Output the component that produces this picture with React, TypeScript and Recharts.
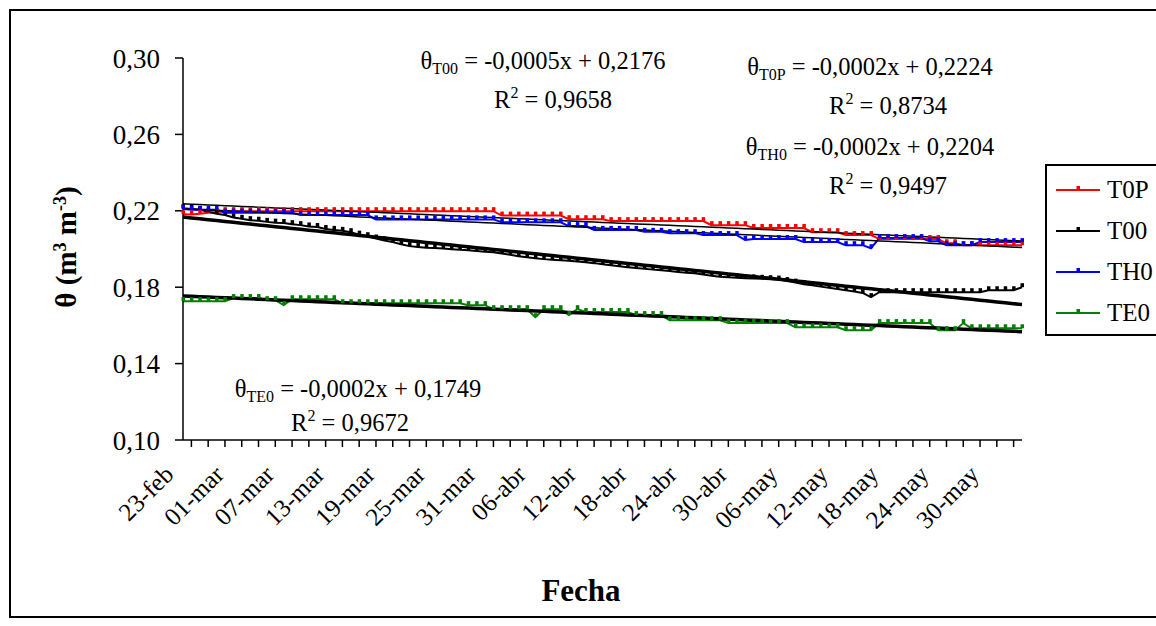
import React from 'react';
import { LineChart, Line, XAxis, YAxis } from 'recharts';

// calendar spans of the measurement period (day-by-day categories)
const MONTH_SPANS: [string, number, number][] = [
  ['feb', 23, 28],
  ['mar', 1, 31],
  ['abr', 1, 30],
  ['may', 1, 31],
  ['jun', 1, 3],
];
const DATES: string[] = MONTH_SPANS.flatMap(([m, from, to]) =>
  Array.from({ length: to - from + 1 }, (_, i) => `${String(from + i).padStart(2, '0')}-${m}`)
);

const Y_TICKS = [0.1, 0.14, 0.18, 0.22, 0.26, 0.3];

// soil water content, one value per day
const T0P = [
  0.2182, 0.218, 0.2184, 0.219, 0.2194, 0.2198, 0.2198, 0.2198, 0.2198, 0.2198,
  0.2198, 0.2198, 0.2198, 0.2198, 0.2198, 0.2198, 0.2198, 0.2198, 0.2198, 0.2198,
  0.2198, 0.2198, 0.2198, 0.2198, 0.2198, 0.2198, 0.2198, 0.2198, 0.2198, 0.2198,
  0.2198, 0.2198, 0.2198, 0.2198, 0.2198, 0.2198, 0.2198, 0.2198, 0.2175, 0.2175,
  0.2175, 0.2175, 0.2175, 0.2175, 0.2175, 0.2175, 0.2156, 0.2156, 0.2156, 0.2156,
  0.2156, 0.2146, 0.2146, 0.2146, 0.2146, 0.2146, 0.2146, 0.2146, 0.2146, 0.2146,
  0.2146, 0.2146, 0.2146, 0.2125, 0.2125, 0.2125, 0.2125, 0.2125, 0.211, 0.211,
  0.211, 0.211, 0.211, 0.211, 0.211, 0.2088, 0.2088, 0.2088, 0.2088, 0.2073,
  0.2073, 0.2073, 0.2073, 0.2052, 0.2052, 0.2052, 0.2052, 0.2052, 0.2052, 0.2052,
  0.2052, 0.203, 0.203, 0.202, 0.202, 0.202, 0.202, 0.202, 0.202, 0.202,
  0.202,
];

const T00 = [
  0.2214, 0.221, 0.2205, 0.2195, 0.2185, 0.2178, 0.2165, 0.2158, 0.2151, 0.2148,
  0.2142, 0.2138, 0.2136, 0.213, 0.2125, 0.2118, 0.2115, 0.2105, 0.21, 0.2095,
  0.2088, 0.2075, 0.2067, 0.2055, 0.2045, 0.2036, 0.2025, 0.2015, 0.201, 0.2007,
  0.2005, 0.2002, 0.1999, 0.1996, 0.1994, 0.199, 0.1986, 0.1983, 0.1976, 0.197,
  0.1962, 0.1957, 0.1952, 0.1947, 0.1944, 0.1941, 0.1938, 0.1934, 0.193, 0.1926,
  0.192, 0.1915, 0.191, 0.1905, 0.19, 0.1896, 0.1892, 0.1889, 0.1885, 0.188,
  0.1876, 0.1873, 0.1866, 0.186, 0.1855, 0.1852, 0.185, 0.1847, 0.1846, 0.1844,
  0.1842, 0.184, 0.1832, 0.1824, 0.1816, 0.181, 0.1803, 0.1797, 0.179, 0.1784,
  0.1778, 0.177, 0.1748, 0.1774, 0.1774, 0.1774, 0.1774, 0.1774, 0.1774, 0.1774,
  0.1774, 0.1774, 0.1774, 0.1774, 0.1774, 0.1774, 0.1784, 0.1784, 0.1784, 0.1784,
  0.18,
];

const TH0 = [
  0.221, 0.2205, 0.2205, 0.2205, 0.2205, 0.219, 0.219, 0.219, 0.219, 0.219,
  0.219, 0.219, 0.219, 0.219, 0.2178, 0.2178, 0.2178, 0.2178, 0.2178, 0.2178,
  0.2178, 0.2178, 0.2178, 0.2155, 0.2155, 0.2155, 0.2155, 0.2155, 0.2155, 0.2155,
  0.2155, 0.2155, 0.2155, 0.2155, 0.2155, 0.2155, 0.2155, 0.2155, 0.214, 0.214,
  0.214, 0.214, 0.214, 0.214, 0.214, 0.214, 0.212, 0.212, 0.212, 0.21,
  0.21, 0.21, 0.21, 0.21, 0.21, 0.209, 0.209, 0.209, 0.2083, 0.2083,
  0.2083, 0.2083, 0.2073, 0.2073, 0.2073, 0.2073, 0.2073, 0.2047, 0.2052, 0.2052,
  0.2052, 0.2052, 0.2052, 0.2052, 0.2036, 0.2036, 0.2036, 0.2036, 0.2036, 0.202,
  0.202, 0.202, 0.2004, 0.2057, 0.2057, 0.2057, 0.2057, 0.2057, 0.2057, 0.204,
  0.204, 0.202, 0.202, 0.202, 0.202, 0.2036, 0.2036, 0.2036, 0.2036, 0.2036,
  0.2036,
];

const TE0 = [
  0.1727, 0.1727, 0.1727, 0.1727, 0.1727, 0.1727, 0.1743, 0.1743, 0.1743, 0.1743,
  0.1732, 0.1732, 0.1706, 0.1737, 0.1737, 0.1737, 0.1737, 0.1737, 0.1737, 0.1716,
  0.1716, 0.1716, 0.1716, 0.1716, 0.1716, 0.1716, 0.1716, 0.1716, 0.1716, 0.1716,
  0.1716, 0.1716, 0.1716, 0.1716, 0.1706, 0.1706, 0.1706, 0.1685, 0.1685, 0.1685,
  0.1685, 0.1685, 0.1643, 0.1685, 0.1685, 0.1685, 0.1654, 0.1685, 0.167, 0.167,
  0.167, 0.167, 0.167, 0.167, 0.1654, 0.1654, 0.1654, 0.1654, 0.1627, 0.1627,
  0.1627, 0.1627, 0.1627, 0.1627, 0.1627, 0.1612, 0.1612, 0.1612, 0.1612, 0.1612,
  0.1612, 0.1612, 0.1612, 0.159, 0.159, 0.159, 0.159, 0.159, 0.159, 0.1575,
  0.1575, 0.1575, 0.1575, 0.1612, 0.1612, 0.1612, 0.1612, 0.1612, 0.1612, 0.1612,
  0.1575, 0.1575, 0.1575, 0.1612, 0.1585, 0.1585, 0.1585, 0.1585, 0.1585, 0.1585,
  0.1585,
];

const SERIES = [
  { key: 'T0P', values: T0P, color: '#ff0000', trendWidth: 1.5 },
  { key: 'T00', values: T00, color: '#000000', trendWidth: 3.5 },
  { key: 'TH0', values: TH0, color: '#0000ff', trendWidth: 1.5 },
  { key: 'TE0', values: TE0, color: '#008000', trendWidth: 3.5 },
];

// least squares linear trend, x = 1..n like a spreadsheet trendline
const linearFit = (ys: number[]) => {
  const n = ys.length;
  let sx = 0, sy = 0, sxx = 0, sxy = 0;
  ys.forEach((y, i) => {
    const x = i + 1;
    sx += x; sy += y; sxx += x * x; sxy += x * y;
  });
  const slope = (n * sxy - sx * sy) / (n * sxx - sx * sx);
  const intercept = (sy - slope * sx) / n;
  return { slope, intercept };
};

const fits = SERIES.map(s => linearFit(s.values));

const data = DATES.map((d, i) => {
  const row: { [k: string]: string | number } = { date: d };
  SERIES.forEach((s, j) => {
    row[s.key] = s.values[i];
    row[`trend${s.key}`] = fits[j].intercept + fits[j].slope * (i + 1);
  });
  return row;
});

const FONT = '"Liberation Serif", "Times New Roman", serif';
const fmt = (v: number) => v.toFixed(2).replace('.', ',');

// eslint-disable-next-line @typescript-eslint/no-explicit-any
const DateTick = (props: any) => {
  const { x, y, index, payload } = props;
  const i = payload?.index ?? index;
  const lx = x - 8;
  const ly = y + 36;
  return (
    <g>
      {i % 2 === 1 && <line x1={x} y1={y} x2={x} y2={y + 7} stroke="#000" strokeWidth={1.5} />}
      {i % 6 === 0 && (
        <text
          x={lx}
          y={ly}
          transform={`rotate(-45 ${lx} ${ly})`}
          textAnchor="end"
          fontFamily={FONT}
          fontSize={25}
          fill="#000"
        >
          {payload.value}
        </text>
      )}
    </g>
  );
};

// eslint-disable-next-line @typescript-eslint/no-explicit-any
const makeDot = (color: string) => (p: any) => {
  if (p.cx == null || p.cy == null) return <g key={p.key} />;
  return <rect key={p.key} x={p.cx - 1.5} y={p.cy - 4} width={3.5} height={4} fill={color} />;
};

const Equation = ({ x, y, sub, text }: { x: number; y: number; sub: string; text: string }) => (
  <text x={x} y={y} textAnchor="middle" fontFamily={FONT} fontSize={24.5} fill="#000">
    θ
    <tspan fontSize={16} dy={5}>{sub}</tspan>
    <tspan dy={-5}>{` = ${text}`}</tspan>
  </text>
);

const RSquared = ({ x, y, value }: { x: number; y: number; value: string }) => (
  <text x={x} y={y} textAnchor="middle" fontFamily={FONT} fontSize={24.5} fill="#000">
    R
    <tspan fontSize={16} dy={-10}>2</tspan>
    <tspan dy={10}>{` = ${value}`}</tspan>
  </text>
);

const App: React.FC = () => {
  return (
    <div style={{ position: 'relative', width: 1156, height: 626, background: '#fff' }}>
      <style>{'body{margin:0}'}</style>
      <LineChart
        width={1156}
        height={626}
        data={data}
        margin={{ top: 58, right: 134, left: 103, bottom: 126 }}
      >
        <XAxis
          dataKey="date"
          interval={0}
          tick={<DateTick />}
          tickLine={false}
          tickSize={0}
          tickMargin={0}
          height={60}
          axisLine={{ stroke: '#000', strokeWidth: 1.5 }}
        />
        <YAxis
          width={80}
          domain={[0.1, 0.3]}
          ticks={Y_TICKS}
          tickFormatter={fmt}
          allowDataOverflow
          tick={{ fill: '#000', fontSize: 27, fontFamily: FONT }}
          tickSize={8}
          tickMargin={15}
          tickLine={{ stroke: '#000', strokeWidth: 1.5 }}
          axisLine={{ stroke: '#000', strokeWidth: 1.5 }}
        />
        {SERIES.map(s => (
          <Line
            key={s.key}
            type="linear"
            dataKey={s.key}
            stroke={s.color}
            strokeWidth={2}
            dot={makeDot(s.color)}
            activeDot={false}
            isAnimationActive={false}
          />
        ))}
        {SERIES.map(s => (
          <Line
            key={`trend${s.key}`}
            type="linear"
            dataKey={`trend${s.key}`}
            stroke="#000"
            strokeWidth={s.trendWidth}
            dot={false}
            activeDot={false}
            isAnimationActive={false}
          />
        ))}
      </LineChart>

      <svg
        width={1156}
        height={626}
        style={{ position: 'absolute', left: 0, top: 0, pointerEvents: 'none' }}
      >
        <polyline points="1160,10 10,10 10,617 1160,617" fill="none" stroke="#000" strokeWidth={2} />
        <text
          x={76}
          y={247}
          transform="rotate(-90 76 247)"
          textAnchor="middle"
          fontFamily={FONT}
          fontSize={29}
          fontWeight="bold"
          fill="#000"
        >
          θ (m
          <tspan fontSize={18} dy={-10}>3</tspan>
          <tspan dy={10}> m</tspan>
          <tspan fontSize={18} dy={-10}>-3</tspan>
          <tspan dy={10}>)</tspan>
        </text>
        <text x={581} y={601} textAnchor="middle" fontFamily={FONT} fontSize={31} fontWeight="bold" fill="#000">
          Fecha
        </text>

        <Equation x={543} y={69} sub="T00" text="-0,0005x + 0,2176" />
        <RSquared x={553} y={108} value="0,9658" />
        <Equation x={870} y={75} sub="T0P" text="-0,0002x + 0,2224" />
        <RSquared x={888} y={114} value="0,8734" />
        <Equation x={870} y={155} sub="TH0" text="-0,0002x + 0,2204" />
        <RSquared x={888} y={194} value="0,9497" />
        <Equation x={358} y={397} sub="TE0" text="-0,0002x + 0,1749" />
        <RSquared x={350} y={431} value="0,9672" />

        <rect x={1046} y={165} width={120} height={170} fill="#fff" stroke="#000" strokeWidth={2} />
        {SERIES.map((s, i) => {
          const cy = 190 + i * 41;
          return (
            <g key={s.key}>
              <line x1={1056} y1={cy} x2={1100} y2={cy} stroke={s.color} strokeWidth={2} />
              <rect x={1076.5} y={cy - 4} width={3.5} height={4} fill={s.color} />
              <text x={1107} y={cy + 8} fontFamily={FONT} fontSize={25} fill="#000">
                {s.key}
              </text>
            </g>
          );
        })}
      </svg>
    </div>
  );
};

export default App;
